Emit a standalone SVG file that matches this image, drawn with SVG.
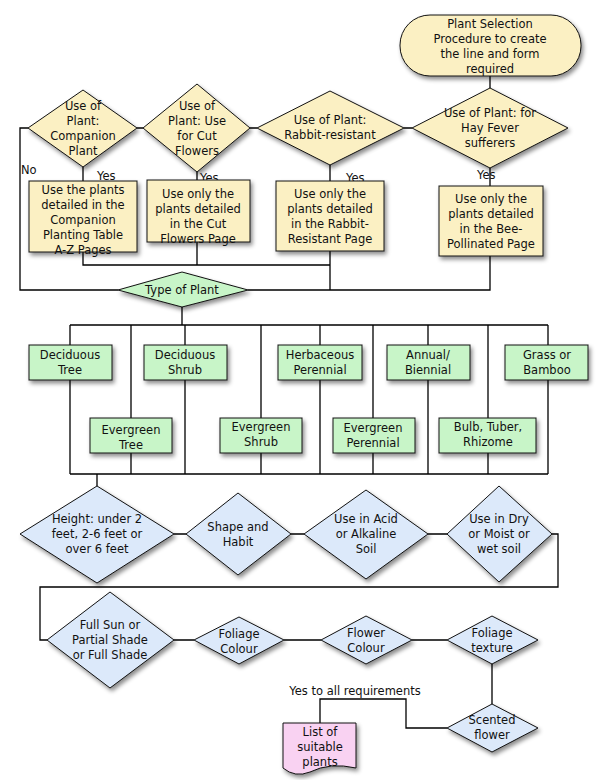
<svg xmlns="http://www.w3.org/2000/svg" width="602" height="780" viewBox="0 0 602 780">
<defs>
<filter id="sh" x="-20%" y="-20%" width="150%" height="150%"><feDropShadow dx="2" dy="3" stdDeviation="2" flood-color="#000" flood-opacity="0.45"/></filter>
</defs>
<style>
text{font-family:"DejaVu Sans","Liberation Sans",sans-serif;font-size:11.5px;fill:#111;text-anchor:middle}
.y{fill:#fbf0c3;stroke:#111;stroke-width:1;filter:url(#sh)}
.g{fill:#c8f5c8;stroke:#111;stroke-width:1;filter:url(#sh)}
.b{fill:#dce9fa;stroke:#111;stroke-width:1;filter:url(#sh)}
.p{fill:#f9d2f2;stroke:#111;stroke-width:1;filter:url(#sh)}
.c{fill:none;stroke:#000;stroke-width:1.3}
.l{text-anchor:start}
</style>
<g id="connectors" class="c">
<path d="M490,76 V88"/>
<path d="M412,128 H404 M257,128 H250 M143,128 H137 M28,128 H20 V290 H118"/>
<path d="M83,167 V181 M197,172 V180 M330,165 V181 M490,168 V186"/>
<path d="M83,252 V265 H330 M197,242 V265 M330,251 V290 M490,256 V290 H248"/>
<path d="M182,307 V325 M70,325 H548 M70,325 V345 M131,325 V418 M185,325 V345 M261,325 V418 M320,325 V345 M373,325 V418 M428,325 V345 M488,325 V418 M548,325 V345"/>
<path d="M70,380 V474 M131,453 V474 M185,380 V474 M261,453 V474 M320,380 V474 M373,453 V474 M428,380 V474 M488,453 V474 M548,380 V474 M70,474 H548 M97,474 V486"/>
<path d="M174,534 H186 M291,534 H304 M428,534 H447 M552,534 H558 V587 H40 V640 H47"/>
<path d="M174,640 H194 M284,640 H321 M412,640 H447 M492,664 V704 M447,728 H406 V699 H320 V723"/>
</g>
<g id="start"><rect class="y" x="400" y="15" width="181" height="61" rx="30"/><text x="490" y="28">Plant Selection</text><text x="490" y="43">Procedure to create</text><text x="490" y="58">the line and form</text><text x="490" y="73">required</text></g>
<g id="d-companion"><polygon class="y" points="83,90 137,128 83,167 28,128"/><text x="83" y="110">Use of</text><text x="83" y="125">Plant:</text><text x="83" y="140">Companion</text><text x="83" y="155">Plant</text></g>
<g id="d-cut"><polygon class="y" points="197,84 250,128 197,172 143,128"/><text x="197" y="110">Use of</text><text x="197" y="125">Plant: Use</text><text x="197" y="140">for Cut</text><text x="197" y="155">Flowers</text></g>
<g id="d-rabbit"><polygon class="y" points="330,91 404,128 330,165 257,128"/><text x="330" y="124">Use of Plant:</text><text x="330" y="139">Rabbit-resistant</text></g>
<g id="d-hay"><polygon class="y" points="490,88 568,128 490,168 412,128"/><text x="490" y="117">Use of Plant: for</text><text x="490" y="132">Hay Fever</text><text x="490" y="147">sufferers</text></g>
<g id="labels"><text class="l" x="21" y="174">No</text><text class="l" x="97" y="180">Yes</text><text class="l" x="200" y="182">Yes</text><text class="l" x="346" y="182">Yes</text><text class="l" x="477" y="179">Yes</text></g>
<g id="b-companion"><rect class="y" x="29" y="181" width="108" height="71"/><text x="83" y="194">Use the plants</text><text x="83" y="209">detailed in the</text><text x="83" y="224">Companion</text><text x="83" y="239">Planting Table</text><text x="83" y="254">A-Z Pages</text></g>
<g id="b-cut"><rect class="y" x="147" y="180" width="103" height="62"/><text x="198" y="198">Use only the</text><text x="198" y="213">plants detailed</text><text x="198" y="228">in the Cut</text><text x="198" y="243">Flowers Page</text></g>
<g id="b-rabbit"><rect class="y" x="276" y="181" width="108" height="70"/><text x="330" y="198">Use only the</text><text x="330" y="213">plants detailed</text><text x="330" y="228">in the Rabbit-</text><text x="330" y="243">Resistant Page</text></g>
<g id="b-bee"><rect class="y" x="439" y="186" width="104" height="70"/><text x="491" y="203">Use only the</text><text x="491" y="218">plants detailed</text><text x="491" y="233">in the Bee-</text><text x="491" y="248">Pollinated Page</text></g>
<g id="d-type"><polygon class="g" points="182,272 248,290 182,307 118,290"/><text x="182" y="294">Type of Plant</text></g>
<g id="t-dt"><rect class="g" x="29" y="345" width="83" height="35"/><text x="70" y="359">Deciduous</text><text x="70" y="374">Tree</text></g>
<g id="t-ds"><rect class="g" x="144" y="345" width="83" height="35"/><text x="185" y="359">Deciduous</text><text x="185" y="374">Shrub</text></g>
<g id="t-hp"><rect class="g" x="278" y="345" width="84" height="35"/><text x="320" y="359">Herbaceous</text><text x="320" y="374">Perennial</text></g>
<g id="t-ab"><rect class="g" x="387" y="345" width="83" height="35"/><text x="428" y="359">Annual/</text><text x="428" y="374">Biennial</text></g>
<g id="t-gb"><rect class="g" x="505" y="345" width="83" height="35"/><text x="547" y="359">Grass or</text><text x="547" y="374">Bamboo</text></g>
<g id="t-et"><rect class="g" x="90" y="418" width="82" height="35"/><text x="131" y="434">Evergreen</text><text x="131" y="449">Tree</text></g>
<g id="t-es"><rect class="g" x="220" y="418" width="82" height="35"/><text x="261" y="431">Evergreen</text><text x="261" y="446">Shrub</text></g>
<g id="t-ep"><rect class="g" x="333" y="418" width="82" height="35"/><text x="373" y="432">Evergreen</text><text x="373" y="447">Perennial</text></g>
<g id="t-bt"><rect class="g" x="439" y="418" width="97" height="35"/><text x="488" y="431">Bulb, Tuber,</text><text x="488" y="446">Rhizome</text></g>
<g id="d-height"><polygon class="b" points="97,486 174,534 97,583 20,534"/><text x="97" y="523">Height: under 2</text><text x="97" y="538">feet, 2-6 feet or</text><text x="97" y="553">over 6 feet</text></g>
<g id="d-shape"><polygon class="b" points="238,493 291,534 238,575 186,534"/><text x="238" y="531">Shape and</text><text x="238" y="546">Habit</text></g>
<g id="d-acid"><polygon class="b" points="366,490 428,534 366,579 304,534"/><text x="366" y="523">Use in Acid</text><text x="366" y="538">or Alkaline</text><text x="366" y="553">Soil</text></g>
<g id="d-dry"><polygon class="b" points="499,486 552,534 499,582 447,534"/><text x="499" y="523">Use in Dry</text><text x="499" y="538">or Moist or</text><text x="499" y="553">wet soil</text></g>
<g id="d-sun"><polygon class="b" points="110,592 174,640 110,688 47,640"/><text x="110" y="629">Full Sun or</text><text x="110" y="644">Partial Shade</text><text x="110" y="659">or Full Shade</text></g>
<g id="d-foliage"><polygon class="b" points="239,617 284,640 239,664 194,640"/><text x="239" y="638">Foliage</text><text x="239" y="653">Colour</text></g>
<g id="d-flower"><polygon class="b" points="366,616 412,640 366,664 321,640"/><text x="366" y="637">Flower</text><text x="366" y="652">Colour</text></g>
<g id="d-texture"><polygon class="b" points="492,616 538,640 492,664 447,640"/><text x="492" y="637">Foliage</text><text x="492" y="652">texture</text></g>
<g id="d-scented"><polygon class="b" points="492,704 538,728 492,752 447,728"/><text x="492" y="724">Scented</text><text x="492" y="739">flower</text></g>
<g id="list"><path class="p" d="M283,723 H356 V768 Q330,762 310,772 Q295,778 283,768 Z"/><text x="320" y="736">List of</text><text x="320" y="751">suitable</text><text x="320" y="766">plants</text></g>
<text x="355" y="695">Yes to all requirements</text>
</svg>
